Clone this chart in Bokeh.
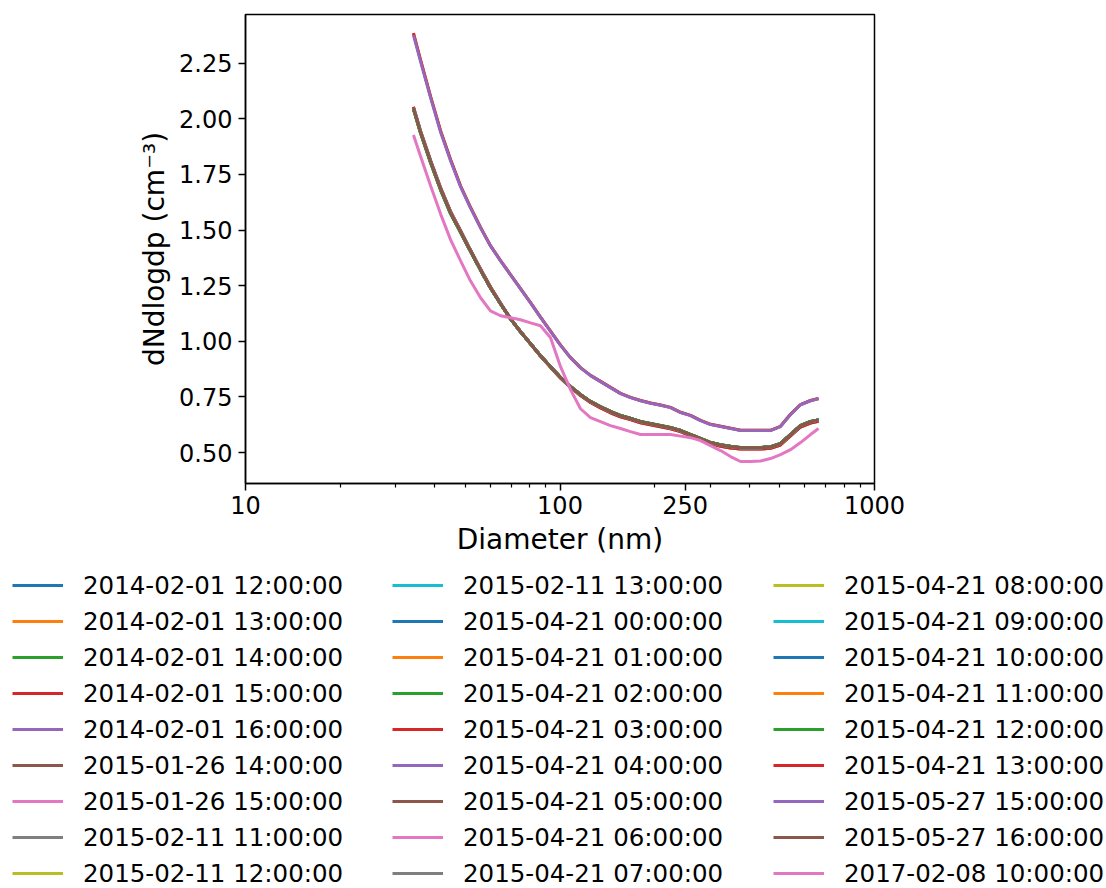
from bokeh.plotting import figure
from bokeh.layouts import column
from bokeh.models import Range1d, FixedTicker, PrintfTickFormatter, Legend, LegendItem
from bokeh.embed import file_html
from bokeh.resources import INLINE

# ---------------- data ----------------
diameter_nm = [34.2, 36.0, 38.8, 41.7, 44.9, 48.3, 51.9, 55.9, 60.1, 64.7,
               69.6, 74.9, 80.6, 86.7, 93.3, 100.4, 108.0, 116.2, 125.0, 134.5,
               144.7, 155.7, 167.5, 180.3, 194.0, 208.7, 224.6, 241.6, 260.0, 279.8,
               301.0, 323.9, 348.5, 374.9, 403.4, 434.1, 467.1, 502.5, 540.7, 581.8,
               626.0, 663.7]

upper_purple = [2.376, 2.259, 2.093, 1.941, 1.811, 1.694, 1.600, 1.510, 1.429, 1.362,
                1.299, 1.236, 1.173, 1.108, 1.045, 0.982, 0.926, 0.881, 0.846, 0.819,
                0.792, 0.765, 0.747, 0.733, 0.722, 0.713, 0.702, 0.680, 0.666, 0.644,
                0.626, 0.617, 0.608, 0.599, 0.599, 0.599, 0.599, 0.617, 0.671, 0.715,
                0.733, 0.742]

upper_alt = [2.385, 2.266, 2.099, 1.947, 1.816, 1.698, 1.603, 1.512, 1.430, 1.363,
             1.300, 1.237, 1.174, 1.109, 1.046, 0.983, 0.927, 0.882, 0.847, 0.820,
             0.793, 0.766, 0.748, 0.734, 0.723, 0.714, 0.703, 0.681, 0.667, 0.645,
             0.627, 0.618, 0.609, 0.600, 0.600, 0.600, 0.600, 0.618, 0.672, 0.716,
             0.734, 0.743]

main_brown = [2.048, 1.941, 1.806, 1.685, 1.577, 1.492, 1.407, 1.321, 1.241, 1.169,
              1.101, 1.043, 0.989, 0.935, 0.886, 0.837, 0.796, 0.760, 0.729, 0.706,
              0.684, 0.666, 0.653, 0.639, 0.630, 0.621, 0.612, 0.599, 0.581, 0.563,
              0.545, 0.534, 0.527, 0.522, 0.522, 0.522, 0.525, 0.540, 0.581, 0.621,
              0.639, 0.646]

main_red = [2.054, 1.947, 1.812, 1.691, 1.583, 1.497, 1.411, 1.325, 1.245, 1.172,
            1.103, 1.044, 0.989, 0.934, 0.884, 0.834, 0.793, 0.756, 0.725, 0.701,
            0.679, 0.661, 0.648, 0.634, 0.625, 0.616, 0.607, 0.594, 0.575, 0.557,
            0.539, 0.528, 0.521, 0.516, 0.516, 0.516, 0.519, 0.534, 0.575, 0.615,
            0.633, 0.641]

main_green = [2.044, 1.937, 1.802, 1.681, 1.573, 1.489, 1.405, 1.319, 1.240, 1.168,
              1.101, 1.043, 0.989, 0.935, 0.886, 0.838, 0.797, 0.761, 0.730, 0.707,
              0.685, 0.667, 0.654, 0.640, 0.631, 0.622, 0.613, 0.600, 0.582, 0.564,
              0.546, 0.535, 0.528, 0.523, 0.523, 0.523, 0.526, 0.541, 0.582, 0.622,
              0.640, 0.647]

pink_low = [1.927, 1.833, 1.698, 1.573, 1.456, 1.362, 1.272, 1.196, 1.137, 1.115,
            1.106, 1.097, 1.083, 1.070, 1.016, 0.886, 0.783, 0.697, 0.657, 0.639,
            0.621, 0.608, 0.594, 0.581, 0.581, 0.581, 0.581, 0.574, 0.567, 0.554,
            0.531, 0.509, 0.482, 0.460, 0.460, 0.462, 0.473, 0.491, 0.513, 0.545,
            0.581, 0.608]

curves = {"upper_purple": upper_purple, "upper_alt": upper_alt,
          "main_brown": main_brown, "main_red": main_red,
          "main_green": main_green, "pink_low": pink_low}

series_labels = [
    "2014-02-01 12:00:00", "2014-02-01 13:00:00", "2014-02-01 14:00:00",
    "2014-02-01 15:00:00", "2014-02-01 16:00:00", "2015-01-26 14:00:00",
    "2015-01-26 15:00:00", "2015-02-11 11:00:00", "2015-02-11 12:00:00",
    "2015-02-11 13:00:00", "2015-04-21 00:00:00", "2015-04-21 01:00:00",
    "2015-04-21 02:00:00", "2015-04-21 03:00:00", "2015-04-21 04:00:00",
    "2015-04-21 05:00:00", "2015-04-21 06:00:00", "2015-04-21 07:00:00",
    "2015-04-21 08:00:00", "2015-04-21 09:00:00", "2015-04-21 10:00:00",
    "2015-04-21 11:00:00", "2015-04-21 12:00:00", "2015-04-21 13:00:00",
    "2015-05-27 15:00:00", "2015-05-27 16:00:00", "2017-02-08 10:00:00",
]

series_curve = [
    "main_brown", "main_brown", "main_green", "main_red", "main_brown",
    "main_brown", "main_brown", "main_brown", "main_brown", "main_brown",
    "main_brown", "main_brown", "main_green", "main_red", "main_brown",
    "main_brown", "main_brown", "main_brown", "main_brown", "main_brown",
    "main_brown", "upper_alt", "main_green", "upper_alt", "upper_purple",
    "main_brown", "pink_low",
]

x_ticks = [10, 100, 250, 1000]
x_minor = [20, 30, 40, 50, 60, 70, 80, 90, 200, 300, 400, 500, 600, 700, 800, 900]
y_ticks = [0.50, 0.75, 1.00, 1.25, 1.50, 1.75, 2.00, 2.25]

tab10 = ["#1f77b4", "#ff7f0e", "#2ca02c", "#d62728", "#9467bd",
         "#8c564b", "#e377c2", "#7f7f7f", "#bcbd22", "#17becf"]

FONT = "DejaVu Sans"

# ---------------- main plot ----------------
p = figure(frame_width=629, frame_height=469,
           min_border_left=245, min_border_right=232,
           min_border_top=14, min_border_bottom=77,
           x_axis_type="log",
           x_range=Range1d(10, 1000), y_range=Range1d(0.361, 2.469),
           output_backend="svg", toolbar_location=None)
p.frame_align = False

p.background_fill_color = "white"
p.border_fill_color = "white"
p.outline_line_color = "black"
p.outline_line_width = 1.5
p.xgrid.visible = False
p.ygrid.visible = False

for i, cname in enumerate(series_curve):
    p.line(diameter_nm, curves[cname], line_color=tab10[i % 10], line_width=3)

xa = p.xaxis[0]
xa.ticker = FixedTicker(ticks=x_ticks, minor_ticks=x_minor)
xa.formatter = PrintfTickFormatter(format="%d")
xa.axis_label = "Diameter (nm)"

ya = p.yaxis[0]
ya.ticker = FixedTicker(ticks=y_ticks, minor_ticks=[])
ya.formatter = PrintfTickFormatter(format="%.2f")
ya.axis_label = "dNdlogdp (cm⁻³)"

for ax in (xa, ya):
    ax.axis_line_color = "black"
    ax.axis_line_width = 1.5
    ax.major_tick_line_color = "black"
    ax.major_tick_line_width = 1.5
    ax.minor_tick_line_color = "black"
    ax.minor_tick_line_width = 1.2
    ax.major_tick_in = 0
    ax.major_tick_out = 7
    ax.minor_tick_in = 0
    ax.minor_tick_out = 4
    ax.major_label_text_font = FONT
    ax.major_label_text_font_size = "24px"
    ax.major_label_text_color = "black"
    ax.axis_label_text_font = FONT
    ax.axis_label_text_font_size = "28px"
    ax.axis_label_text_font_style = "normal"
    ax.axis_label_text_color = "black"
    ax.axis_label_standoff = 5

xa.major_label_standoff = 5
xa.axis_label_standoff = 6
ya.major_label_standoff = 6

# ---------------- legend panel (3 columns x 9 rows) ----------------
# Same series drawn again, outside this panel's visible ranges, so that the
# legend entries carry their real line styles.
lg = figure(width=1106, height=328,
            min_border_left=0, min_border_right=0, min_border_top=0, min_border_bottom=0,
            x_axis_location=None, y_axis_location=None,
            x_range=Range1d(0, 1), y_range=Range1d(0, 1),
            output_backend="svg", toolbar_location=None)
lg.frame_align = False
lg.outline_line_color = None
lg.xgrid.visible = False
lg.ygrid.visible = False
lg.background_fill_color = "white"
lg.border_fill_color = "white"

legend_renderers = []
for i, cname in enumerate(series_curve):
    legend_renderers.append(lg.line(diameter_nm, curves[cname],
                                    line_color=tab10[i % 10], line_width=3))

col_x = [12, 392, 773]
for k in range(3):
    items = [LegendItem(label=series_labels[i], renderers=[legend_renderers[i]])
             for i in range(9 * k, 9 * k + 9)]
    leg = Legend(items=items, location=(col_x[k], 0),
                 glyph_width=51, glyph_height=30, label_height=30,
                 label_standoff=20, spacing=6, padding=0, margin=0,
                 border_line_color=None, background_fill_alpha=0,
                 label_text_font=FONT, label_text_font_size="24.5px",
                 label_text_color="black")
    lg.add_layout(leg)

layout = column(p, lg, spacing=0)
open("out.html", "w").write(file_html(layout, INLINE))
